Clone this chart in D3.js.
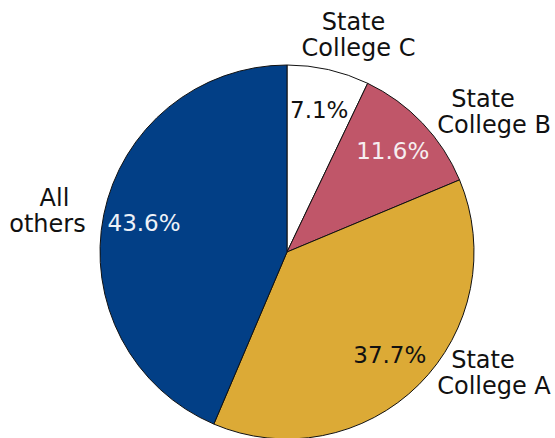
<!DOCTYPE html>
<html>
<head>
<meta charset="utf-8">
<script src="https://cdn.jsdelivr.net/npm/d3@7"></script>
<style>
  html, body { margin: 0; padding: 0; background: #fff; }
  svg { display: block; }
  text { font-family: "DejaVu Sans", sans-serif; }
</style>
</head>
<body>
<svg id="chart" width="555" height="438"></svg>
<script>
// Share of enrolment by institution
const categories = ["State College C", "State College B", "State College A", "All others"];
const shares = [7.1, 11.6, 37.7, 43.6];
const labelLines = [["State", "College C"], ["State", "College B"], ["State", "College A"], ["All", "others"]];

// Appearance
const sliceColors = ["#ffffff", "#c05669", "#dcaa36", "#023f86"];
const pctColors = ["#111111", "#f6eef0", "#111111", "#eef2f8"];
// Label nudges from the outer label ring, in px, and first-line shift
const labelNudge = [[26, -17], [58, 1], [62, -26], [-38, -1]];
const firstLineShift = [-5, -11, -11, 7];

const W = 555, H = 438;
const cx = 287, cy = 252, R = 187;
const pctSize = 23, labelSize = 24, lineH = 26;

const svg = d3.select("#chart");
const g = svg.append("g").attr("transform", `translate(${cx},${cy})`);

const pie = d3.pie().sort(null).value(d => d.v);
const data = categories.map((c, i) => ({ name: c, v: shares[i], i }));
const arcs = pie(data);

const arc = d3.arc().innerRadius(0).outerRadius(R);
const pctArc = d3.arc().innerRadius(R * 0.78).outerRadius(R * 0.78);
const labelArc = d3.arc().innerRadius(R * 1.1).outerRadius(R * 1.1);

g.selectAll("path.slice")
  .data(arcs)
  .join("path")
  .attr("class", "slice")
  .attr("d", arc)
  .attr("fill", d => sliceColors[d.data.i])
  .attr("stroke", "#111")
  .attr("stroke-width", 1)
  .attr("stroke-linejoin", "round");

g.selectAll("text.pct")
  .data(arcs)
  .join("text")
  .attr("class", "pct")
  .attr("transform", d => `translate(${pctArc.centroid(d)})`)
  .attr("text-anchor", "middle")
  .attr("dominant-baseline", "central")
  .attr("font-size", pctSize)
  .attr("fill", d => pctColors[d.data.i])
  .text(d => d3.format(".1f")(d.data.v) + "%");

const lbl = g.selectAll("text.lbl")
  .data(arcs)
  .join("text")
  .attr("class", "lbl")
  .attr("text-anchor", "middle")
  .attr("font-size", labelSize)
  .attr("fill", "#111")
  .attr("transform", d => {
    const [x, y] = labelArc.centroid(d);
    const [dx, dy] = labelNudge[d.data.i];
    return `translate(${x + dx},${y + dy})`;
  });

lbl.each(function(d) {
  const lines = labelLines[d.data.i];
  const t = d3.select(this);
  const first = -((lines.length - 1) * lineH) / 2 + labelSize * 0.36;
  lines.forEach((s, k) => {
    t.append("tspan")
      .attr("x", k === 0 ? firstLineShift[d.data.i] : 0)
      .attr("y", first + k * lineH)
      .text(s);
  });
});
</script>
</body>
</html>
